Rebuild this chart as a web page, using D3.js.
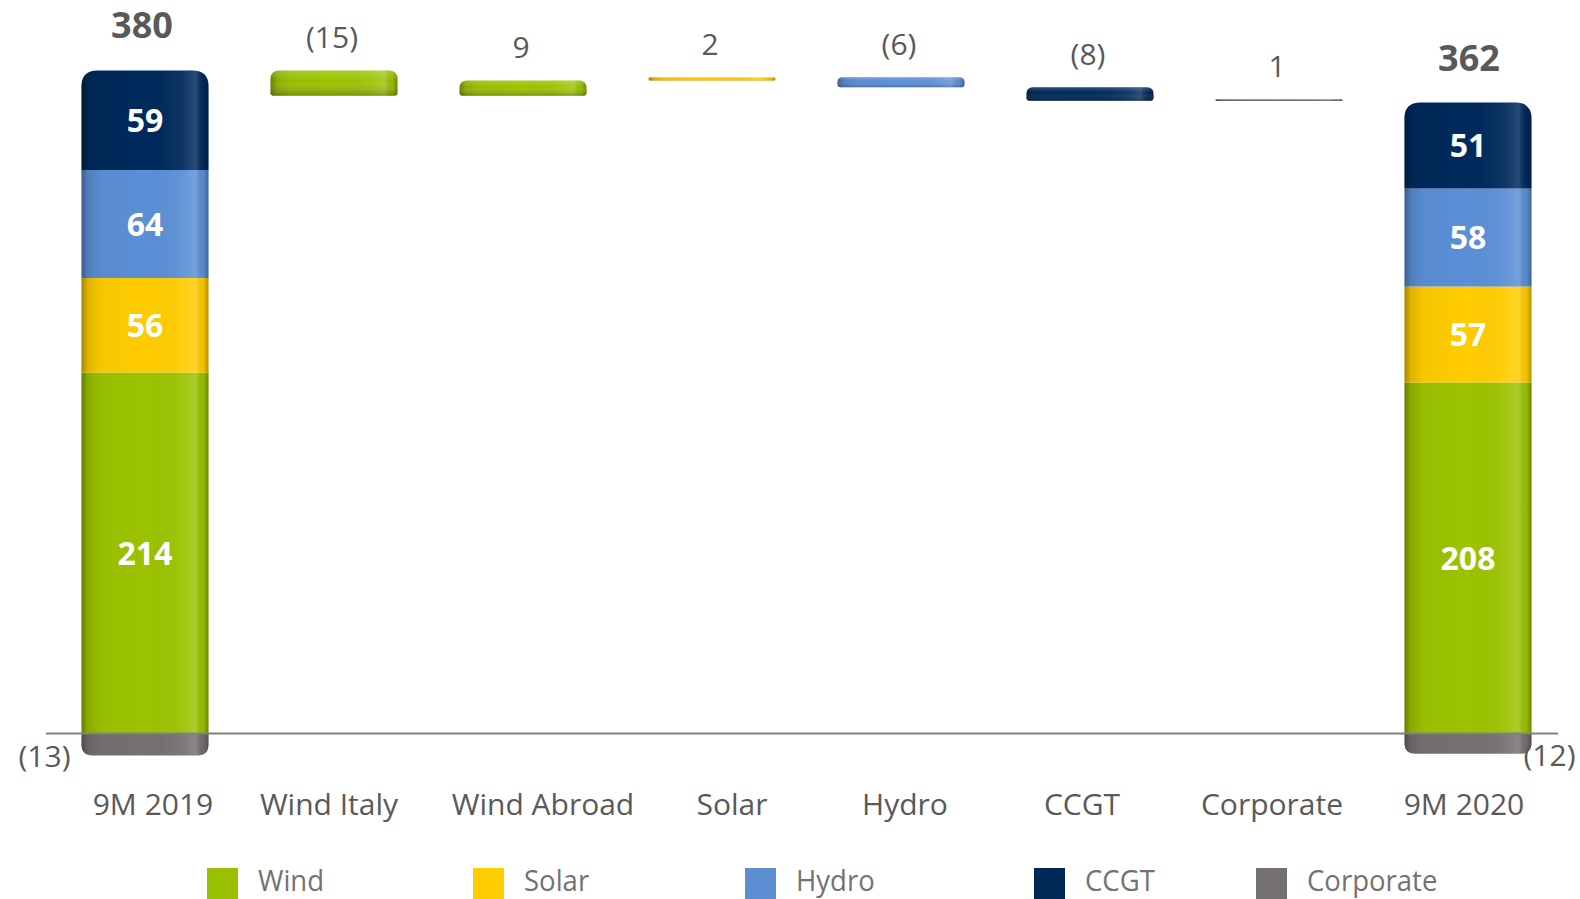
<!DOCTYPE html>
<html><head><meta charset="utf-8">
<script src="https://cdn.jsdelivr.net/npm/d3@7"></script>
<style>html,body{margin:0;padding:0;background:#fff;overflow:hidden}</style>
</head><body>
<svg id="c" width="1580" height="899"></svg>
<script>
// ---- data ----
const categories = ["9M 2019","Wind Italy","Wind Abroad","Solar","Hydro","CCGT","Corporate","9M 2020"];
const segments = ["Wind","Solar","Hydro","CCGT","Corporate"];
const start2019 = [214, 56, 64, 59, -13];
const end2020 = [208, 57, 58, 51, -12];
const totals = [380, 362];
const deltas = [-15, 9, 2, -6, -8, 1];
const deltaSegment = ["Wind","Wind","Solar","Hydro","CCGT","Corporate"];
const legendLabels = ["Wind","Solar","Hydro","CCGT","Corporate"];

// ---- style ----
const colors = {Wind:"#9BC300", Solar:"#FFCC00", Hydro:"#5B8FD6", CCGT:"#002A5C", Corporate:"#767171"};
const legendColors = {Wind:"#99C000", Solar:"#FFCC00", Hydro:"#5B8DD0", CCGT:"#002856", Corporate:"#767171"};
const axisLabelDx = [8, -5, 20, 20, 4, -8, -7, -4];
const font = "'Open Sans', 'DejaVu Sans', sans-serif";

const svg = d3.select("#c");
const x = d3.scalePoint().domain(categories).range([145, 1468]);
const posSum = start2019.filter(v => v > 0).reduce((a,b)=>a+b,0);
const y = d3.scaleLinear().domain([0, posSum]).range([733.5, 70.5]);
const bw = 127;

const defs = svg.append("defs");
const g1 = defs.append("linearGradient").attr("id","shade").attr("x1","0").attr("x2","1").attr("y1","0").attr("y2","0");
[[0,"#000",0.35],[0.05,"#000",0.12],[0.15,"#000",0.03],[0.5,"#000",0],[0.8,"#fff",0.06],[0.9,"#fff",0.16],[0.96,"#000",0.05],[1,"#000",0.3]]
  .forEach(([o,c,a]) => g1.append("stop").attr("offset",o).attr("stop-color",c).attr("stop-opacity",a));
const g2 = defs.append("linearGradient").attr("id","vshade").attr("x1","0").attr("x2","0").attr("y1","0").attr("y2","1");
[[0,"#fff",0.18],[0.4,"#fff",0.0],[1,"#000",0.25]]
  .forEach(([o,c,a]) => g2.append("stop").attr("offset",o).attr("stop-color",c).attr("stop-opacity",a));

function rrect(x0, y0, w, h, rt, rb) {
  rt = Math.min(rt, h/2, w/2); rb = Math.min(rb, h/2, w/2);
  const p = d3.path();
  p.moveTo(x0 + rt, y0);
  p.lineTo(x0 + w - rt, y0);
  p.quadraticCurveTo(x0 + w, y0, x0 + w, y0 + rt);
  p.lineTo(x0 + w, y0 + h - rb);
  p.quadraticCurveTo(x0 + w, y0 + h, x0 + w - rb, y0 + h);
  p.lineTo(x0 + rb, y0 + h);
  p.quadraticCurveTo(x0, y0 + h, x0, y0 + h - rb);
  p.lineTo(x0, y0 + rt);
  p.quadraticCurveTo(x0, y0, x0 + rt, y0);
  p.closePath();
  return p.toString();
}

function stacked(cat, vals, total, negSide) {
  const cx = x(cat), x0 = cx - bw/2;
  let acc = 0;
  const nPos = vals.filter(v => v > 0).length;
  const g = svg.append("g");
  vals.forEach((v, i) => {
    const seg = segments[i];
    let y0, y1, rt = 0, rb = 0;
    if (v >= 0) { y0 = y(acc + v); y1 = y(acc); acc += v; if (i === nPos - 1) rt = 16; }
    else { y0 = y(0); y1 = y(v); rb = 12; }
    const d = rrect(x0, y0, bw, y1 - y0, rt, rb);
    g.append("path").attr("d", d).attr("fill", colors[seg]);
    g.append("path").attr("d", d).attr("fill", "url(#shade)");
    if (v > 0) {
      g.append("text").attr("x", cx).attr("y", (y0 + y1)/2).attr("dy","0.36em")
        .attr("text-anchor","middle").attr("fill","#fff").attr("font-family",font)
        .attr("font-weight","bold").attr("font-size",32).text(v);
    } else {
      g.append("text").attr("x", negSide < 0 ? x0 - 37 : x0 + bw + 18).attr("y", y1 + 1).attr("dy","0.36em")
        .attr("text-anchor","middle").attr("fill","#595959").attr("font-family",font)
        .attr("font-size",30).text("(" + Math.abs(v) + ")");
    }
  });
  svg.append("text").attr("x", cx + (negSide < 0 ? -3 : 1)).attr("y", y(acc) - 45).attr("dy","0.36em")
    .attr("text-anchor","middle").attr("fill","#595959").attr("font-family",font)
    .attr("font-weight","bold").attr("font-size",36).text(total);
}

stacked(categories[0], start2019, totals[0], -1);
stacked(categories[7], end2020, totals[1], 1);

// floating deltas
let run = posSum;
deltas.forEach((d, i) => {
  const cat = categories[i + 1];
  const cx = x(cat), x0 = cx - bw/2;
  const a = run, b = run + d; run = b;
  const yt = y(Math.max(a, b)), yb = y(Math.min(a, b));
  const h = Math.max(yb - yt, 1.8);
  const p = rrect(x0, yt, bw, h, 9, 3);
  svg.append("path").attr("d", p).attr("fill", colors[deltaSegment[i]]);
  svg.append("path").attr("d", p).attr("fill", "url(#shade)");
  svg.append("path").attr("d", p).attr("fill", "url(#vshade)");
  svg.append("text").attr("x", cx - 2).attr("y", yt - 33).attr("dy","0.36em")
    .attr("text-anchor","middle").attr("fill","#595959").attr("font-family",font)
    .attr("font-size",30).text(d < 0 ? "(" + Math.abs(d) + ")" : d);
});

// baseline
svg.append("line").attr("x1", 46).attr("x2", 1558).attr("y1", y(0)).attr("y2", y(0))
  .attr("stroke", "#808080").attr("stroke-width", 2);

// axis labels
categories.forEach((c, i) => {
  svg.append("text").attr("x", x(c) + axisLabelDx[i]).attr("y", 804).attr("dy","0.36em")
    .attr("text-anchor","middle").attr("fill","#595959").attr("font-family",font)
    .attr("font-size",30).text(c);
});

// legend
const legX = [207, 473, 745, 1034, 1256];
legendLabels.forEach((l, i) => {
  const tx = legX[i] + 51;
  svg.append("rect").attr("x", legX[i]).attr("y", 868).attr("width", 31).attr("height", 31)
    .attr("fill", legendColors[l]);
  svg.append("text").attr("x", tx).attr("y", 881).attr("dy","0.36em")
    .attr("fill","#767171").attr("font-family",font).attr("font-size",29)
    .attr("transform", `translate(${tx},0) scale(0.95,1) translate(${-tx},0)`)
    .text(l);
});
</script>
</body></html>
